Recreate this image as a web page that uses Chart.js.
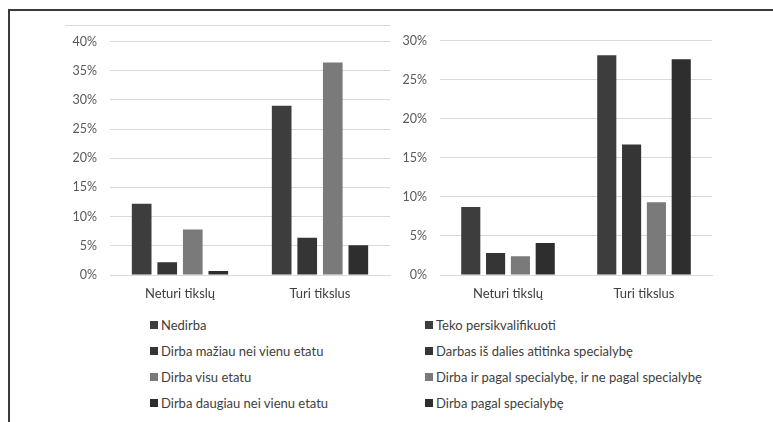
<!DOCTYPE html>
<html>
<head>
<meta charset="utf-8">
<script src="https://cdn.jsdelivr.net/npm/chart.js@4.4.1/dist/chart.umd.min.js"></script>
<style>
  html, body { margin: 0; padding: 0; background: #fff; width: 773px; height: 422px; overflow: hidden; }
  #frame { position: absolute; left: 8px; top: 9px; width: 780px; height: 430px; border-left: 2px solid #3a3a3a; border-top: 2px solid #3a3a3a; }
  #topline { position: absolute; left: 65px; top: 25px; width: 325px; height: 0; border-top: 1px solid #d9d9d9; }
  .box { position: absolute; }
  .legend { position: absolute; font-family: Lato, "Open Sans", sans-serif; font-size: 13px; color: #404040; }
  .legend .item { position: absolute; white-space: nowrap; height: 16px; line-height: 16px; }
  .legend .sw { position: absolute; width: 8px; height: 8px; top: 4px; }
  .legend .tx { position: absolute; top: 0; }
</style>
</head>
<body>
<div id="frame"></div>
<div id="topline"></div>
<div class="box" style="left:20px; top:21px; width:372px; height:294px;"><canvas id="c1"></canvas></div>
<div class="box" style="left:392px; top:20px; width:330px; height:295px;"><canvas id="c2"></canvas></div>
<div class="legend" id="lg1" style="left:150px; top:317px;"></div>
<div class="legend" id="lg2" style="left:425px; top:317px;"></div>
<script>
const categories = ["Neturi tikslų", "Turi tikslus"];

const leftSeries = ["Nedirba", "Dirba mažiau nei vienu etatu", "Dirba visu etatu", "Dirba daugiau nei vienu etatu"];
const leftNedirba = [12.2, 29.0];
const leftMaziau = [2.2, 6.4];
const leftVisu = [7.8, 36.4];
const leftDaugiau = [0.7, 5.1];
const leftTicks = [0, 5, 10, 15, 20, 25, 30, 35, 40];

const rightSeries = ["Teko persikvalifikuoti", "Darbas iš dalies atitinka specialybę", "Dirba ir pagal specialybę, ir ne pagal specialybę", "Dirba pagal specialybę"];
const rightTeko = [8.7, 28.1];
const rightDalies = [2.8, 16.7];
const rightIrNe = [2.4, 9.3];
const rightPagal = [4.1, 27.6];
const rightTicks = [0, 5, 10, 15, 20, 25, 30];

const colors = ["#3d3d3d", "#353535", "#7a7a7a", "#2e2e2e"];
const fontFam = "Lato, 'Open Sans', sans-serif";

function makeChart(id, series, values, ticks, yWidth, padTop, padRight) {
  const datasets = series.map((s, i) => ({
    label: s,
    data: values[i],
    backgroundColor: colors[i],
    borderWidth: 0,
    categoryPercentage: 0.73,
    barPercentage: 0.77
  }));
  const maxV = ticks[ticks.length - 1];
  const chart = new Chart(document.getElementById(id), {
    type: 'bar',
    data: { labels: categories, datasets },
    options: {
      responsive: true,
      maintainAspectRatio: false,
      animation: false,
      layout: { padding: { top: padTop, right: padRight, left: 0, bottom: 0 } },
      plugins: { legend: { display: false }, tooltip: { enabled: false } },
      scales: {
        x: {
          grid: { display: false, drawTicks: false },
          border: { display: true, color: '#d9d9d9', width: 1 },
          ticks: { padding: 11, color: '#404040', font: { family: fontFam, size: 13 } },
          afterFit: (s) => { s.height = 40; }
        },
        y: {
          min: 0, max: maxV,
          afterBuildTicks: (s) => { s.ticks = ticks.map(v => ({ value: v })); },
          grid: { color: '#d9d9d9', drawTicks: false },
          border: { display: false },
          ticks: { padding: 13, color: '#595959', font: { family: fontFam, size: 12.5 }, callback: (v) => v + '%' },
          afterFit: (s) => { s.width = yWidth; }
        }
      }
    }
  });
  return chart;
}

function buildLegend(el, chart) {
  const items = chart.data.datasets;
  items.forEach((d, i) => {
    const it = document.createElement('div');
    it.className = 'item';
    it.style.top = (i * 26) + 'px';
    const sw = document.createElement('span');
    sw.className = 'sw';
    sw.style.background = d.backgroundColor;
    const tx = document.createElement('span');
    tx.className = 'tx';
    tx.style.left = '11px';
    tx.textContent = d.label;
    it.appendChild(sw); it.appendChild(tx);
    el.appendChild(it);
  });
}

const c1 = makeChart('c1', leftSeries, [leftNedirba, leftMaziau, leftVisu, leftDaugiau], leftTicks, 90, 0, 2);
const c2 = makeChart('c2', rightSeries, [rightTeko, rightDalies, rightIrNe, rightPagal], rightTicks, 48, 0, 10);
buildLegend(document.getElementById('lg1'), c1);
buildLegend(document.getElementById('lg2'), c2);
</script>
</body>
</html>
